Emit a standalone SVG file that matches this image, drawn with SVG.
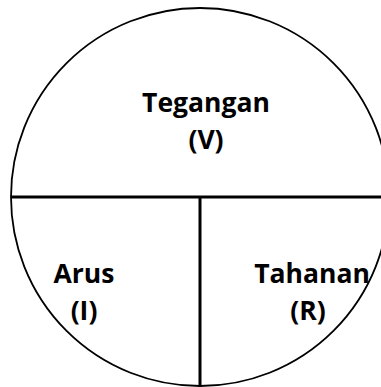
<svg xmlns="http://www.w3.org/2000/svg" width="381" height="387" viewBox="0 0 381 387">
<style>
.lbl{font-family:"Open Sans",Lato,"Liberation Sans",sans-serif;font-weight:bold;font-size:26.5px;fill:#000;text-anchor:middle}
.div{stroke:#000;stroke-width:3;fill:none}
</style>
<rect width="381" height="387" fill="#fff"/>
<g id="circle"><circle cx="200" cy="197" r="189" fill="none" stroke="#000" stroke-width="1.8"/></g>
<g id="connectors">
<line class="div" x1="11" y1="197" x2="381" y2="197"/>
<line class="div" x1="200" y1="197" x2="200" y2="387"/>
</g>
<g id="tegangan"><text class="lbl" x="206" y="112">Tegangan</text><text class="lbl" x="206" y="149">(V)</text></g>
<g id="arus"><text class="lbl" x="84" y="283">Arus</text><text class="lbl" x="84" y="320">(I)</text></g>
<g id="tahanan"><text class="lbl" x="312" y="283">Tahanan</text><text class="lbl" x="308" y="320">(R)</text></g>
</svg>
